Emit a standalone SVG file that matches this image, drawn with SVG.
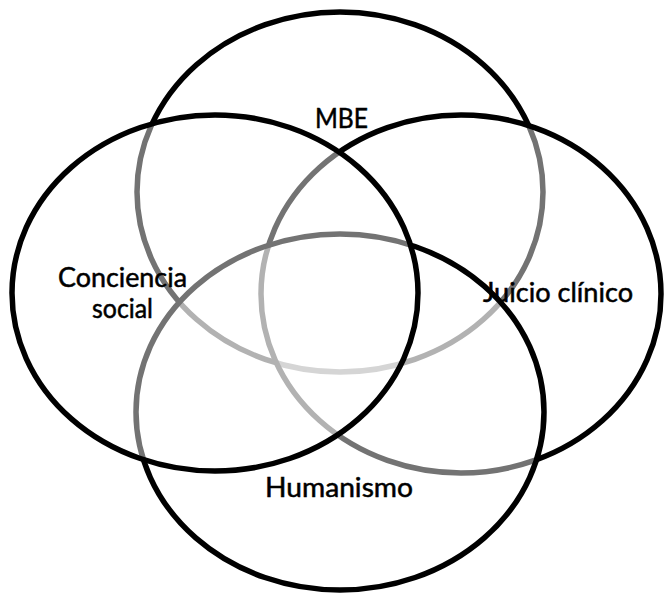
<svg xmlns="http://www.w3.org/2000/svg" width="665" height="596" viewBox="0 0 665 596">
  <style>
    .set { fill: #ffffff; fill-opacity: 0.45; stroke: #000000; stroke-width: 5.5; }
    .lbl { font-family: Lato, "Open Sans", "Liberation Sans", sans-serif; font-size: 26px; fill: #000000; stroke: #000000; stroke-width: 0.5; text-anchor: middle; }
  </style>
  <rect x="0" y="0" width="665" height="596" fill="#ffffff"/>
  <g id="mbe">
    <ellipse class="set" cx="340" cy="192" rx="203" ry="180"/>
  </g>
  <g id="juicio-clinico">
    <ellipse class="set" cx="461" cy="294" rx="200" ry="179"/>
  </g>
  <g id="humanismo">
    <ellipse class="set" cx="340" cy="412" rx="204" ry="178"/>
  </g>
  <g id="conciencia-social">
    <ellipse class="set" cx="215" cy="293" rx="203" ry="178"/>
  </g>
  <g id="labels">
    <text class="lbl" x="341.5" y="128" textLength="53" lengthAdjust="spacingAndGlyphs">MBE</text>
    <text class="lbl" x="122.5" y="287" textLength="129" lengthAdjust="spacingAndGlyphs">Conciencia</text>
    <text class="lbl" x="122.5" y="318" textLength="61" lengthAdjust="spacingAndGlyphs">social</text>
    <text class="lbl" x="558" y="302" textLength="150" lengthAdjust="spacingAndGlyphs">Juicio clínico</text>
    <text class="lbl" x="339" y="497" textLength="148" lengthAdjust="spacingAndGlyphs">Humanismo</text>
  </g>
</svg>
